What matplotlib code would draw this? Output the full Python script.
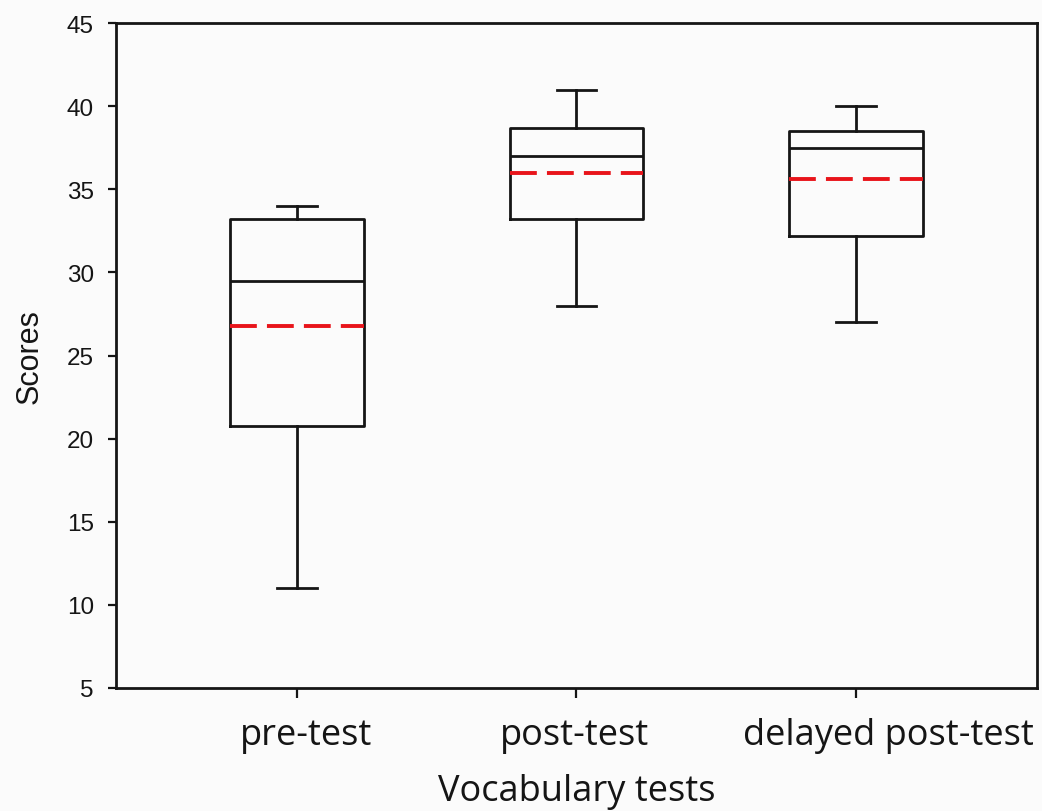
import matplotlib.pyplot as plt
import matplotlib.transforms as mtransforms
import numpy as np

# summary statistics
tests = ['pre-test', 'post-test', 'delayed post-test']
whislo = [11.0, 28.0, 27.0]
q1 = [20.75, 33.2, 32.2]
medians = [29.5, 37.0, 37.5]
means = [26.75, 35.95, 35.6]
q3 = [33.2, 38.7, 38.5]
whishi = [34.0, 41.0, 40.0]

stats = []
for i in range(len(tests)):
    stats.append(dict(label=tests[i], whislo=whislo[i], q1=q1[i], med=medians[i],
                      mean=means[i], q3=q3[i], whishi=whishi[i], fliers=[]))

bg = '#fbfbfb'
fig = plt.figure(figsize=(10.42, 8.12), dpi=100, facecolor=bg)
ax = fig.add_axes([0.1113, 0.1515, 0.8839, 0.8189], facecolor=bg)

line_kw = dict(color='#151515', linewidth=2.0)
ax.bxp(stats, positions=[1, 2, 3], widths=0.48, capwidths=0.143,
       showmeans=True, meanline=True, showfliers=False,
       boxprops=line_kw, whiskerprops=line_kw, capprops=line_kw,
       medianprops=line_kw,
       meanprops=dict(color='#e8141a', linewidth=2.8, linestyle=(0, (6.9, 2.6))))

ax.set_xlim(0.35, 3.65)
ax.set_ylim(5, 45)
ax.set_yticks(np.arange(5, 46, 5))

for s in ax.spines.values():
    s.set_linewidth(2.0)
    s.set_color('#151515')

ax.tick_params(axis='y', direction='out', length=6, width=1.6, pad=10,
               labelsize=17.5, colors='#151515')
ax.tick_params(axis='x', direction='out', length=7, width=1.6, pad=14,
               labelsize=26, colors='#151515')
for lab in ax.get_yticklabels():
    lab.set_family('Liberation Sans')

# the category labels in the original sit a little right of their ticks
shifts = [0.09, -0.02, 0.33]  # inches
for lab, dx in zip(ax.get_xticklabels(), shifts):
    lab.set_family('Open Sans')
    lab.set_transform(lab.get_transform() +
                      mtransforms.ScaledTranslation(dx, 0, fig.dpi_scale_trans))

ax.set_ylabel('Scores', fontsize=22, family='Liberation Sans', labelpad=16,
              color='#151515')
ax.set_xlabel('Vocabulary tests', fontsize=26, family='Open Sans', labelpad=14,
              color='#151515')

fig.savefig('out.png', dpi=100, facecolor=bg)
